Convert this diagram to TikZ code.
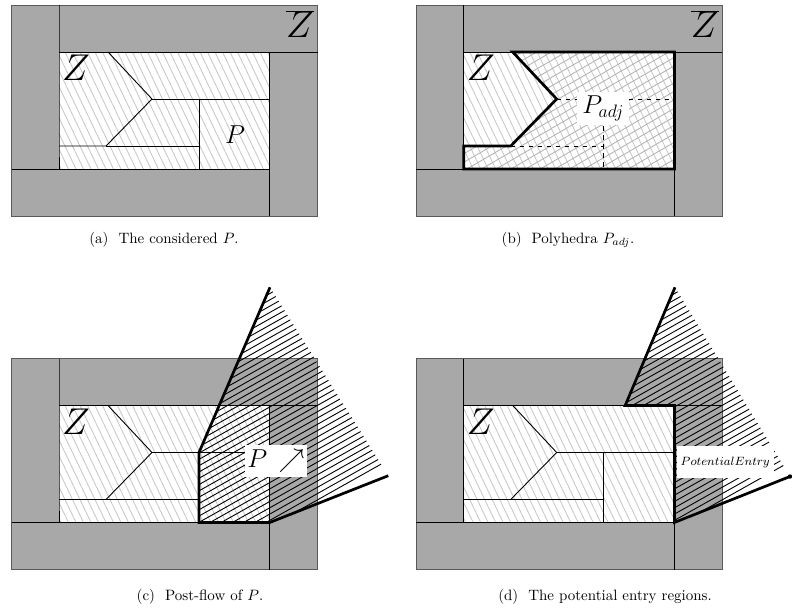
\documentclass[tikz,border=0pt]{standalone}
\usepackage{amsmath,amssymb}
\usepackage{xcolor}
\usetikzlibrary{calc}
\definecolor{wallgray}{gray}{0.66}
\newcommand{\bigZ}{\fontsize{25}{25}\selectfont$Z$}
\newcommand{\bigZbar}{\fontsize{25}{25}\selectfont\vbox{\hrule height .5pt\kern.3pt\hbox{$Z$}}}
% outer walls, hatched zone and the corner points of one panel
\newcommand{\zonebase}{
\coordinate (ol) at (11.7,5); \coordinate (or) at (317.5,216);
\coordinate (il) at (59,52); \coordinate (ir) at (269.7,169);
\coordinate (top) at (108,52); \coordinate (junc) at (152,99);
\coordinate (low) at (106,146); \coordinate (lowl) at (59,146);
\coordinate (split) at (199,99); \coordinate (splitl) at (199,146);
\coordinate (splitb) at (199,169); \coordinate (midr) at (269.7,99);
\draw[wall] (ol) rectangle (or);
\fill[white] (il) rectangle (ir);
\begin{scope}
\clip (il) rectangle (ir);
\foreach \k in {-10,-2.5,...,272} \draw[zonehatch] (\k,52)--(\k+56,169);
\end{scope}
}
% thin wall lines
\newcommand{\zonewalls}{
\draw[thinl] (59,5)--(lowl)--(59,169);
\draw[thinl] (11.7,169)--(ir);
\draw[thinl] (269.7,216)--(269.7,52);
\draw[thinl] (59,52)--(317.5,52);
}
\newcommand{\zonecuts}[1]{
\draw[thinl,#1] (junc)--(midr);
\draw[thinl,#1] (low)--(splitl);
\draw[thinl,#1] (split)--(splitb);
}
\newcommand{\zoneforks}{
\draw[thinl] (top)--(junc)--(low)--(lowl);
}
\newcommand{\flowhatch}[1]{
\begin{scope}
\clip #1;
\foreach \k in {-160,-153.7,...,220} \draw[flowh] (190,\k)--(400,\k-118);
\end{scope}
}
\begin{document}
\begin{tikzpicture}[x=0.6667pt,y=-0.6667pt,
 wall/.style={draw=black!65,fill=wallgray,line width=.6pt},
 zonehatch/.style={draw=black!22,line width=.55pt},
 adjhatch/.style={draw=black!30,line width=.55pt},
 flowh/.style={draw=black,line width=.6pt},
 thinl/.style={draw=black,line width=.6pt},
 bold/.style={draw=black,line width=1.8pt,line join=miter},
 whitelabel/.style={fill=white,inner sep=0pt},
 caption/.style={inner sep=0pt,anchor=base}]
\useasboundingbox (0,0) rectangle (792,614);

% (a)
\begin{scope}
\zonebase
\zonewalls
\zonecuts{}
\zoneforks
\node (za) at (76,68) {\bigZ};
\node (zbara) at (300,24) {\bigZbar};
\node (pa) at (235,135) {\fontsize{17}{17}\selectfont$P$};
\end{scope}
\node[caption] (capa) at (164,243) {(a)\ \ The considered $P$.};

% (b)
\begin{scope}[shift={(404.7,0)}]
\zonebase
\begin{scope}
\clip (top)--(269.7,52)--(ir)--(59,169)--(lowl)--(low)--(junc)--cycle;
\foreach \k in {40,48.5,...,330} \draw[adjhatch] (50,\k)--(290,\k-139);
\end{scope}
\zonewalls
\zonecuts{dashed}
\draw[bold] (top)--(269.7,52)--(ir)--(59,169)--(lowl)--(low)--(junc)--cycle;
\node (zb) at (76,68) {\bigZ};
\node (zbarb) at (300,24) {\bigZbar};
\node[whitelabel,minimum width=35pt,minimum height=22.5pt] (padj) at (198.5,108.5) {\fontsize{17}{17}\selectfont$P_{adj}$};
\end{scope}
\node[caption] (capb) at (568,243) {(b)\ \ Polyhedra $P_{adj}$.};

% (c)
\begin{scope}[shift={(0,353.5)}]
\zonebase
\zonecuts{}
\zoneforks
\coordinate (apex) at (270,-66.2);
\coordinate (tip) at (388.3,122.2);
\flowhatch{(split)--(apex)--(tip)--(ir)--(splitb)--cycle}
\zonewalls
\draw[bold] (apex)--(split)--(splitb)--(ir)--(tip);
\node (zc) at (76,68) {\bigZ};
\node[whitelabel,minimum width=41.5pt,minimum height=21.5pt] (pflow) at (276,107.5) {\fontsize{17}{17}\selectfont$P\,\nearrow$};
\end{scope}
\node[caption] (capc) at (200,600) {(c)\ \ Post-flow of $P$.};

% (d)
\begin{scope}[shift={(404.7,353.5)}]
\zonebase
\zonecuts{}
\zoneforks
\coordinate (apex) at (270.3,-66.2);
\coordinate (entry) at (220.5,52);
\coordinate (tip) at (385.3,123);
\flowhatch{(entry)--(apex)--(tip)--(ir)--(269.7,52)--cycle}
\zonewalls
\draw[bold] (apex)--(entry)--(269.7,52)--(ir)--(tip);
\fill (tip) circle (2.2);
\node (zd) at (76,68) {\bigZ};
\node[whitelabel,minimum width=65pt,minimum height=21pt,anchor=west] (pentry) at (271.5,108.5) {\fontsize{8.3}{8.3}\selectfont$PotentialEntry$};
\end{scope}
\node[caption] (capd) at (605,600) {(d)\ \ The potential entry regions.};
\end{tikzpicture}
\end{document}
